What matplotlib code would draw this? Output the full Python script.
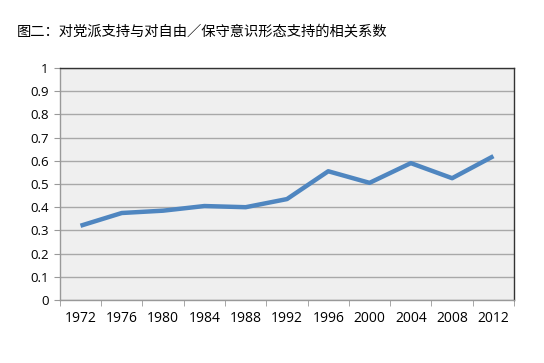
import numpy as np
import matplotlib.pyplot as plt

plt.rcParams['font.family'] = ['Noto Sans CJK SC', 'DejaVu Sans']

# 数据
years = ['1972', '1976', '1980', '1984', '1988', '1992', '1996', '2000', '2004', '2008', '2012']
corr = [0.32, 0.375, 0.385, 0.405, 0.40, 0.435, 0.555, 0.505, 0.59, 0.525, 0.62]
yticks = [0, 0.1, 0.2, 0.3, 0.4, 0.5, 0.6, 0.7, 0.8, 0.9, 1]
ytick_labels = ['0', '0.1', '0.2', '0.3', '0.4', '0.5', '0.6', '0.7', '0.8', '0.9', '1']
title = '图二：对党派支持与对自由／保守意识形态支持的相关系数'

fig = plt.figure(figsize=(5.44, 3.63), dpi=100)
ax = fig.add_axes([0.110, 0.1736, 0.835, 0.639])
ax.set_facecolor('#efefef')

x = np.arange(len(years))
ax.plot(x, corr, color='#4f86c0', lw=3.2, solid_capstyle='butt', zorder=3)

ax.set_xlim(-0.5, len(years) - 0.5)
ax.set_ylim(0, 1)
ax.set_yticks(yticks)
ax.set_yticklabels(ytick_labels, fontsize=9.5, family='Open Sans')
ax.set_xticks(x)
ax.set_xticklabels(years, fontsize=10, family='Open Sans')
ax.set_xticks(np.arange(-0.5, len(years)), minor=True)
ax.tick_params(axis='x', which='major', length=0, pad=8)
ax.tick_params(axis='x', which='minor', length=4, color='#999999', direction='out')
ax.tick_params(axis='y', length=4, color='#999999', direction='out', pad=4)

ax.grid(axis='y', color='#a8a8a8', lw=1.0)
ax.set_axisbelow(True)
for s in ['left', 'bottom']:
    ax.spines[s].set_color('#999999')
    ax.spines[s].set_linewidth(1.0)
for s in ['top', 'right']:
    ax.spines[s].set_color('#333333')
    ax.spines[s].set_linewidth(1.0)

fig.text(0.031, 0.912, title, fontsize=10.3, ha='left', va='center')

fig.savefig('out.png', dpi=100)
